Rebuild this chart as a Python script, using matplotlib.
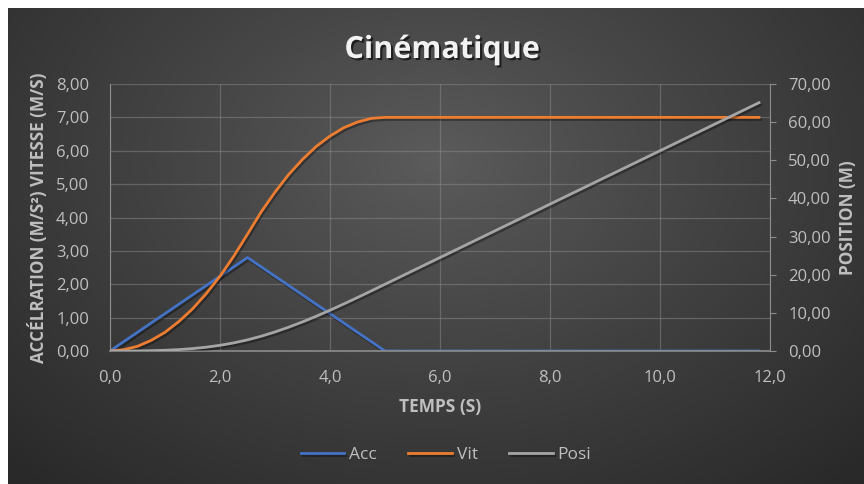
import numpy as np
import matplotlib
matplotlib.use("Agg")
import matplotlib.pyplot as plt
import matplotlib.patheffects as pe
from matplotlib.ticker import FuncFormatter, MultipleLocator

plt.rcParams['font.family'] = ['Open Sans', 'DejaVu Sans']

# temps (s)
temps = [0.0, 0.25, 0.5, 0.75, 1.0, 1.25, 1.5, 1.75, 2.0, 2.25, 2.5,
         2.75, 3.0, 3.25, 3.5, 3.75, 4.0, 4.25, 4.5, 4.75, 5.0,
         6.0, 7.0, 8.0, 9.0, 10.0, 11.0, 11.8]
# accélération (m/s²)
acc = [0.00, 0.28, 0.56, 0.84, 1.12, 1.40, 1.68, 1.96, 2.24, 2.52, 2.80,
       2.52, 2.24, 1.96, 1.68, 1.40, 1.12, 0.84, 0.56, 0.28, 0.00,
       0.00, 0.00, 0.00, 0.00, 0.00, 0.00, 0.00]
# vitesse (m/s)
vit = [0.00, 0.04, 0.14, 0.32, 0.56, 0.88, 1.26, 1.72, 2.24, 2.84, 3.50,
       4.17, 4.76, 5.29, 5.74, 6.13, 6.44, 6.69, 6.86, 6.97, 7.00,
       7.00, 7.00, 7.00, 7.00, 7.00, 7.00, 7.00]
# position (m)
posi = [0.00, 0.00, 0.02, 0.08, 0.19, 0.37, 0.63, 1.00, 1.49, 2.13, 2.92,
        3.88, 4.99, 6.25, 7.63, 9.11, 10.69, 12.33, 14.02, 15.75, 17.50,
        24.50, 31.50, 38.50, 45.50, 52.50, 59.50, 65.10]

TXT = '#bfbfbf'
W, H = 864, 484
fig = plt.figure(figsize=(W / 100, H / 100), dpi=100, facecolor='white')

# fond dégradé radial
bg = fig.add_axes([8 / W, 0, 1 - 8 / W, 1 - 8 / H])
bg.set_axis_off()
yy, xx = np.mgrid[0:1:300j, 0:1:500j]
d = np.sqrt(((xx - 0.5) / 0.75) ** 2 + ((yy - 0.32) / 0.95) ** 2)
d = np.clip(d, 0, 1)
c0, c1 = 0x5c / 255, 0x27 / 255
img = c0 + (c1 - c0) * d ** 0.9
bg.imshow(np.dstack([img, img, img]), aspect='auto', extent=[0, 1, 0, 1],
          origin='upper')
bg.set_xlim(0, 1)
bg.set_ylim(0, 1)

ax = fig.add_axes([110 / W, 1 - 351 / H, 660 / W, 267 / H])
ax.patch.set_alpha(0)
ax2 = ax.twinx()

shadow = [pe.SimpleLineShadow(offset=(1, -1.5), alpha=0.35), pe.Normal()]
l1, = ax.plot(temps, acc, color='#4472C4', lw=2, label='Acc', path_effects=shadow)
l2, = ax.plot(temps, vit, color='#ED7D31', lw=2, label='Vit', path_effects=shadow)
l3, = ax2.plot(temps, posi, color='#A5A5A5', lw=2, label='Posi', path_effects=shadow)

ax.set_xlim(0, 12)
ax.set_ylim(0, 8)
ax2.set_ylim(0, 70)
ax.xaxis.set_major_locator(MultipleLocator(2))
ax.yaxis.set_major_locator(MultipleLocator(1))
ax2.yaxis.set_major_locator(MultipleLocator(10))
ax.xaxis.set_major_formatter(FuncFormatter(lambda v, p: f'{v:.1f}'.replace('.', ',')))
ax.yaxis.set_major_formatter(FuncFormatter(lambda v, p: f'{v:.2f}'.replace('.', ',')))
ax2.yaxis.set_major_formatter(FuncFormatter(lambda v, p: f'{v:.2f}'.replace('.', ',')))

ax.grid(True, color='#8a8a8a', alpha=0.5, lw=0.9)
ax.set_axisbelow(True)

ax.spines['top'].set_visible(False)
ax2.spines['top'].set_visible(False)
ax.spines['right'].set_visible(False)
ax2.spines['left'].set_visible(False)
ax2.spines['bottom'].set_visible(False)
ax.spines['left'].set_color('#8c8c8c')
ax.spines['bottom'].set_color('#8c8c8c')
ax2.spines['right'].set_color('#8c8c8c')
ax.spines['bottom'].set_linewidth(1.2)

ax.tick_params(axis='both', length=0, colors=TXT, labelsize=12)
ax.tick_params(axis='x', pad=14)
ax.tick_params(axis='y', pad=15)
ax2.tick_params(axis='y', length=4, color='#8c8c8c', colors=TXT, labelsize=12, pad=9)

ax.set_xlabel('TEMPS (S)', color=TXT, fontsize=12.5, fontweight='bold', labelpad=8)
ax.set_ylabel('ACCÉLRATION (M/S²) VITESSE (M/S)', color=TXT, fontsize=12.3,
              fontweight='bold', labelpad=6)
ax2.set_ylabel('POSITION (M)', color=TXT, fontsize=12.3, fontweight='bold',
               labelpad=6)

fig.text(442 / W, 1 - 50 / H, 'Cinématique', ha='center', va='center',
         color='#f2f2f2', fontsize=22, fontweight='bold',
         path_effects=[pe.withSimplePatchShadow(offset=(1.5, -1.5),
                                                shadow_rgbFace='black', alpha=0.6)])

fig.legend(handles=[l1, l2, l3], loc='center', bbox_to_anchor=(446 / W, 1 - 455 / H),
           ncol=3, frameon=False, fontsize=12.5, labelcolor=TXT,
           handlelength=2.5, handletextpad=0.3, columnspacing=1.8)

fig.savefig('out.png', dpi=100, facecolor=fig.get_facecolor())
